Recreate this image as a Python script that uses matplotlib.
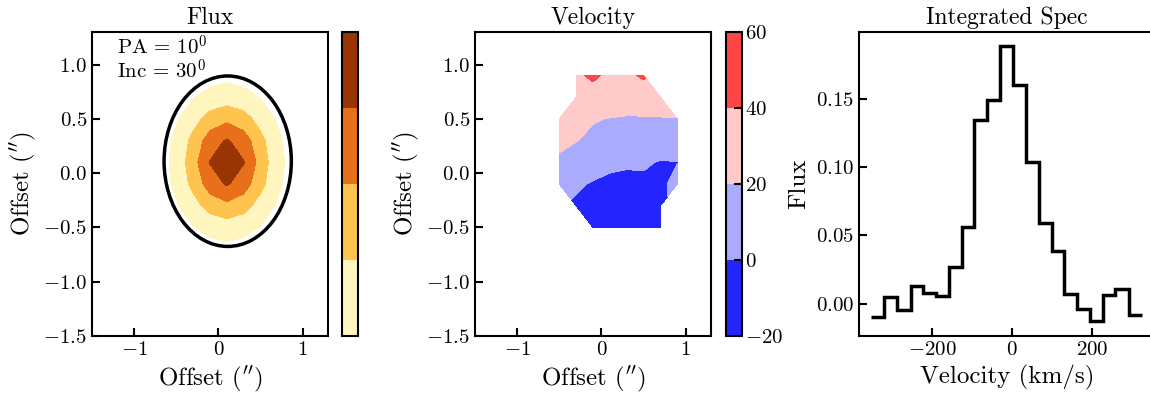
import numpy as np
import matplotlib
matplotlib.use("Agg")
import matplotlib.pyplot as plt
from matplotlib.patches import Ellipse

plt.rcParams.update({
    "font.family": "cmr10",
    "mathtext.fontset": "cm",
    "axes.formatter.use_mathtext": True,
    "axes.linewidth": 1.5,
    "xtick.direction": "in", "ytick.direction": "in",
    "xtick.major.size": 6, "ytick.major.size": 6,
    "xtick.major.width": 1.5, "ytick.major.width": 1.5,
    "xtick.labelsize": 15, "ytick.labelsize": 15,
    "axes.labelsize": 18, "axes.titlesize": 17,
})

# flux map (grid in arcsec, values read by eye)
flux_x = [-0.7, -0.5, -0.3, -0.1, 0.1, 0.3, 0.5, 0.7, 0.9]
flux_y = [-0.7, -0.5, -0.3, -0.1, 0.1, 0.3, 0.5, 0.7, 0.9]
flux_map = [
    [0.02, 0.04, 0.09, 0.13, 0.15, 0.13, 0.09, 0.04, 0.02],
    [0.04, 0.11, 0.19, 0.26, 0.30, 0.26, 0.19, 0.11, 0.04],
    [0.08, 0.18, 0.32, 0.48, 0.55, 0.48, 0.32, 0.18, 0.08],
    [0.11, 0.24, 0.46, 0.70, 0.82, 0.70, 0.46, 0.24, 0.11],
    [0.12, 0.26, 0.52, 0.81, 1.00, 0.81, 0.52, 0.26, 0.12],
    [0.11, 0.24, 0.46, 0.70, 0.82, 0.70, 0.46, 0.24, 0.11],
    [0.08, 0.18, 0.32, 0.48, 0.55, 0.48, 0.32, 0.18, 0.08],
    [0.04, 0.11, 0.19, 0.26, 0.30, 0.26, 0.19, 0.11, 0.04],
    [0.02, 0.04, 0.09, 0.13, 0.15, 0.13, 0.09, 0.04, 0.02],
]
flux_levels = [0.2, 0.4, 0.6, 0.8, 1.0]
flux_colors = ["#fff5bf", "#fec44f", "#e8701a", "#993404"]
pa, inc = 10, 30

# velocity map (km/s)
vel_x = [-0.5, -0.3, -0.1, 0.1, 0.3, 0.5, 0.7, 0.9]
vel_y = [-0.5, -0.3, -0.1, 0.1, 0.3, 0.5, 0.7, 0.9]
nan = np.nan
vel_map = [
    [nan, nan, -8, -12, -14, -15, -12, nan],
    [nan, -3.4, -6, -8, -10, -10, -4, nan],
    [8, 3.4, -2, -2, -6, -3, -4, 6],
    [17, 11, 11, 2, 3, 2, -1, -0.3],
    [24, 20.5, 17, 14, 13, 12, 10, 11],
    [30, 28, 21, 19.5, 18.5, 18, 19, 19.5],
    [nan, 34, 33, 30, 29, 34, 30, nan],
    [nan, 37, 43, 36.3, 37.75, 41.5, nan, nan],
]
vel_levels = [-20, 0, 20, 40, 60]
vel_colors = ["#2424ff", "#aaaaff", "#ffcaca", "#ff4545"]

# integrated spectrum
spec_edges = [-352, -320, -287, -254, -222, -189, -158, -126, -94, -62, -30,
              2, 35, 67, 99, 130, 163, 196, 227, 259, 292, 325]
spec_flux = [-0.010, 0.0046, -0.0046, 0.0132, 0.0080, 0.0054, 0.0266, 0.0563,
             0.1346, 0.1495, 0.189, 0.160, 0.1041, 0.059, 0.039, 0.0073,
             -0.0039, -0.0129, 0.0063, 0.0105, -0.0080]

W, H = 1150, 400
fig = plt.figure(figsize=(W / 100, H / 100), dpi=100)
bot, hgt = 1 - 336 / H, 304 / H
off_lab = r"Offset (${}^{\prime\prime}$)"

# 1) flux
ax1 = fig.add_axes([92 / W, bot, 236 / W, hgt])
cf = ax1.contourf(flux_x, flux_y, flux_map, levels=flux_levels, colors=flux_colors)
ax1.add_patch(Ellipse((0.11, 0.11), 1.51, 1.57, fill=False, ec="k", lw=2.5))
ax1.set_xlim(-1.5, 1.3); ax1.set_ylim(-1.5, 1.3)
ax1.set_xticks([-1, 0, 1]); ax1.set_yticks([-1.5, -1.0, -0.5, 0.0, 0.5, 1.0])
ax1.text(0.105, 0.99, "PA = %d$^0$\nInc = %d$^0$" % (pa, inc), transform=ax1.transAxes,
         va="top", ha="left", fontsize=15, linespacing=0.95)
ax1.set_title("Flux"); ax1.set_xlabel(off_lab); ax1.set_ylabel(off_lab)
cax1 = fig.add_axes([342 / W, bot, 16 / W, hgt])
cb1 = fig.colorbar(cf, cax=cax1); cb1.set_ticks([]); cb1.outline.set_linewidth(1.5)

# 2) velocity
ax2 = fig.add_axes([475 / W, bot, 236 / W, hgt])
vm = np.ma.masked_invalid(np.array(vel_map))
cv = ax2.contourf(vel_x, vel_y, vm, levels=vel_levels, colors=vel_colors, corner_mask=True)
ax2.set_xlim(-1.5, 1.3); ax2.set_ylim(-1.5, 1.3)
ax2.set_xticks([-1, 0, 1]); ax2.set_yticks([-1.5, -1.0, -0.5, 0.0, 0.5, 1.0])
ax2.set_title("Velocity"); ax2.set_xlabel(off_lab); ax2.set_ylabel(off_lab)
cax2 = fig.add_axes([726 / W, bot, 16 / W, hgt])
cb2 = fig.colorbar(cv, cax=cax2); cb2.set_ticks(vel_levels); cb2.outline.set_linewidth(1.5)
cb2.ax.tick_params(direction="in", length=6, width=1.5, labelsize=15, pad=2)

# 3) spectrum
ax3 = fig.add_axes([859 / W, bot, 296 / W, hgt])
ax3.stairs(spec_flux, spec_edges, baseline=None, color="k", lw=2.5)
ax3.set_xlim(-383, 358); ax3.set_ylim(-0.0236, 0.199)
ax3.set_xticks([-200, 0, 200]); ax3.set_yticks([0.0, 0.05, 0.10, 0.15])
ax3.set_title("Integrated Spec"); ax3.set_xlabel("Velocity (km/s)"); ax3.set_ylabel("Flux")

fig.savefig("out.png", dpi=100)
